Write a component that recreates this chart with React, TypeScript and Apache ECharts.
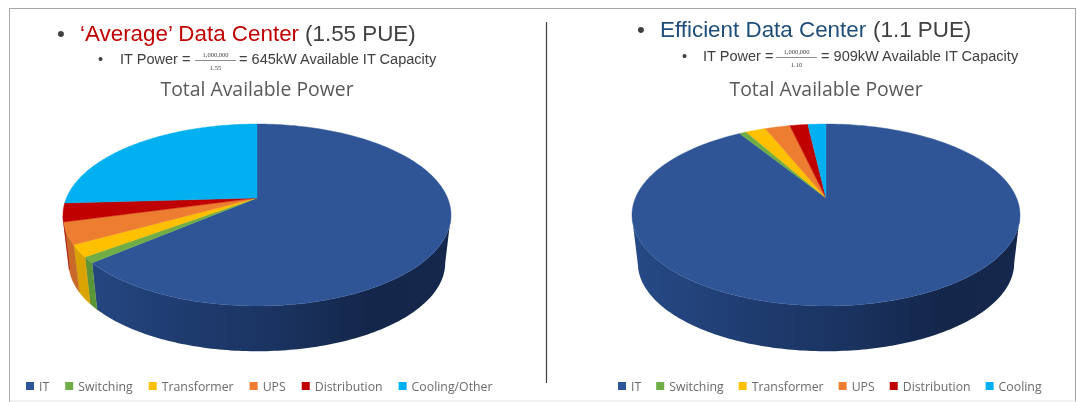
import React, { useEffect, useRef } from "react";
import * as echarts from "echarts";

const leftNames = ["IT", "Switching", "Transformer", "UPS", "Distribution", "Cooling/Other"];
const rightNames = ["IT", "Switching", "Transformer", "UPS", "Distribution", "Cooling"];
const leftValues = [63.75, 1.05, 2.15, 3.85, 3.3, 25.9];
const rightValues = [91.2, 0.7, 2, 2.5, 1.8, 1.8];
const topColors = ["#2f5597", "#70ad47", "#ffc000", "#ed7d31", "#c00000", "#00b0f0"];
const sideColors = ["#1f3864", "#5c9438", "#d9a400", "#c8692a", "#a00000", "#0090c8"];

const A = 190.6, B = 87.8, K = 0.1868, DEPTH = 48, TAPER = 0.97, APEX_Y = 198, ELL_CY = 17;

function project(cx: number, theta: number) {
  const u = Math.sin(theta), v = -Math.cos(theta), d = 1 - K * v;
  return [cx + (A * u) / d, APEX_Y + (B * v) / d];
}

function lower(cx: number, p: number[]) {
  const mid = APEX_Y + ELL_CY;
  return [cx + (p[0] - cx) * TAPER, mid + DEPTH + (p[1] - mid) * TAPER];
}

function sliceSeries(name: string, value: number, values: number[], index: number, cx: number) {
  const before = values.slice(0, index).reduce((s, x) => s + x, 0);
  const total = values.reduce((s, x) => s + x, 0);
  return {
    type: "custom",
    name,
    coordinateSystem: "none",
    data: [[value]],
    silent: true,
    itemStyle: { color: topColors[index] },
    renderItem: (_p: any, api: any) => {
      const val = api.value(0) as number;
      const start = (before / total) * Math.PI * 2;
      const end = ((before + val) / total) * Math.PI * 2;
      const steps = Math.max(2, Math.ceil(((end - start) * 180) / Math.PI));
      const arc: number[][] = [];
      for (let i = 0; i <= steps; i++) arc.push(project(cx, start + ((end - start) * i) / steps));
      const front = arc.filter((p) => p[1] >= APEX_Y + ELL_CY);
      const children: any[] = [];
      if (front.length > 1) {
        const fill =
          index === 0
            ? new echarts.graphic.LinearGradient(
                cx - 194, 0, cx + 194, 0,
                [
                  { offset: 0, color: "#264a86" },
                  { offset: 0.3, color: "#1f3c70" },
                  { offset: 0.55, color: "#1a3360" },
                  { offset: 0.8, color: "#14264a" },
                  { offset: 1, color: "#15274c" },
                ],
                true,
              )
            : sideColors[index];
        const pts = front.concat(front.slice().reverse().map((p) => lower(cx, p)));
        children.push({
          type: "polygon", z2: 1, shape: { points: pts },
          style: { fill, stroke: index === 0 ? undefined : sideColors[index], lineWidth: 0.4 },
        });
      }
      children.push({
        type: "polygon", z2: 2, shape: { points: [[cx, APEX_Y], ...arc] },
        style: { fill: topColors[index], stroke: topColors[index], lineWidth: 0.4 },
      });
      return { type: "group", children };
    },
  };
}

const txt = (x: number, y: number, text: string, font: string, fill: string, align = "left") => ({
  type: "text", x, y, silent: true,
  style: { text, font, fill, textAlign: align, textVerticalAlign: "middle" },
});
const HEAD = '22.4px "Liberation Sans"';
const SUB = '14.55px "Liberation Sans"';
const FRAC = '6.5px "Liberation Serif"';
const GREY = "#404040";

export default function App() {
  const ref = useRef<HTMLDivElement>(null);
  useEffect(() => {
    const chart = echarts.init(ref.current!, undefined, { renderer: "svg" });
    const legendBase = {
      orient: "horizontal", icon: "rect", itemWidth: 8, itemHeight: 8, selectedMode: false,
      textStyle: { fontFamily: "Open Sans", fontSize: 12.3, color: "#6b6b6b" },
    };
    const titleStyle = { fontFamily: "Open Sans", fontSize: 19.4, fontWeight: "normal", color: "#595959" };
    chart.setOption({
      animation: false,
      backgroundColor: "#ffffff",
      title: [
        { text: "Total Available Power", left: 252, top: 74, textAlign: "center", textStyle: titleStyle },
        { text: "Total Available Power", left: 821, top: 74, textAlign: "center", textStyle: titleStyle },
      ],
      legend: [
        { ...legendBase, data: leftNames, left: 21, top: 375, itemGap: 16 },
        { ...legendBase, data: rightNames, left: 613, top: 375, itemGap: 15 },
      ],
      series: [
        ...leftNames.map((n, i) => sliceSeries(n, leftValues[i], leftValues, i, 257)),
        ...rightNames.map((n, i) => sliceSeries(n, rightValues[i], rightValues, i, 826)),
      ],
      graphic: [
        { type: "line", silent: true, shape: { x1: 9.5, y1: 8.5, x2: 1076, y2: 8.5 }, style: { stroke: "#a6a6a6", lineWidth: 1 } },
        { type: "line", silent: true, shape: { x1: 9.5, y1: 8.5, x2: 9.5, y2: 402 }, style: { stroke: "#a6a6a6", lineWidth: 1 } },
        { type: "line", silent: true, shape: { x1: 1075.5, y1: 8.5, x2: 1075.5, y2: 402 }, style: { stroke: "#a6a6a6", lineWidth: 1 } },
        { type: "line", silent: true, shape: { x1: 9.5, y1: 401, x2: 1076, y2: 401 }, style: { stroke: "#e4e4e4", lineWidth: 1 } },
        { type: "line", silent: true, shape: { x1: 546.5, y1: 22, x2: 546.5, y2: 383 }, style: { stroke: "#404040", lineWidth: 1.2 } },

        txt(57, 33, "•", HEAD, GREY),
        txt(80, 33, "‘Average’ Data Center", HEAD, "#c00000"),
        txt(305, 33, "(1.55 PUE)", HEAD, GREY),
        txt(98, 59, "•", SUB, GREY),
        txt(120, 59, "IT Power =", SUB, GREY),
        txt(215.5, 54, "1,000,000", FRAC, GREY, "center"),
        { type: "line", silent: true, shape: { x1: 195, y1: 60.5, x2: 236, y2: 60.5 }, style: { stroke: GREY, lineWidth: 0.6 } },
        txt(215.5, 67, "1.55", FRAC, GREY, "center"),
        txt(239, 59, "= 645kW Available IT Capacity", SUB, GREY),

        txt(637, 29, "•", HEAD, GREY),
        txt(660, 29, "Efficient Data Center", HEAD, "#1f4e79"),
        txt(873, 29, "(1.1 PUE)", HEAD, GREY),
        txt(682, 56, "•", SUB, GREY),
        txt(703, 56, "IT Power =", SUB, GREY),
        txt(796.5, 51, "1,000,000", FRAC, GREY, "center"),
        { type: "line", silent: true, shape: { x1: 776, y1: 57.5, x2: 817, y2: 57.5 }, style: { stroke: GREY, lineWidth: 0.6 } },
        txt(796.5, 64, "1.10", FRAC, GREY, "center"),
        txt(821, 56, "= 909kW Available IT Capacity", SUB, GREY),
      ],
    });
    return () => chart.dispose();
  }, []);
  return <div ref={ref} style={{ position: "fixed", left: 0, top: 0, width: 1077, height: 402, filter: "blur(0.4px)" }} />;
}
